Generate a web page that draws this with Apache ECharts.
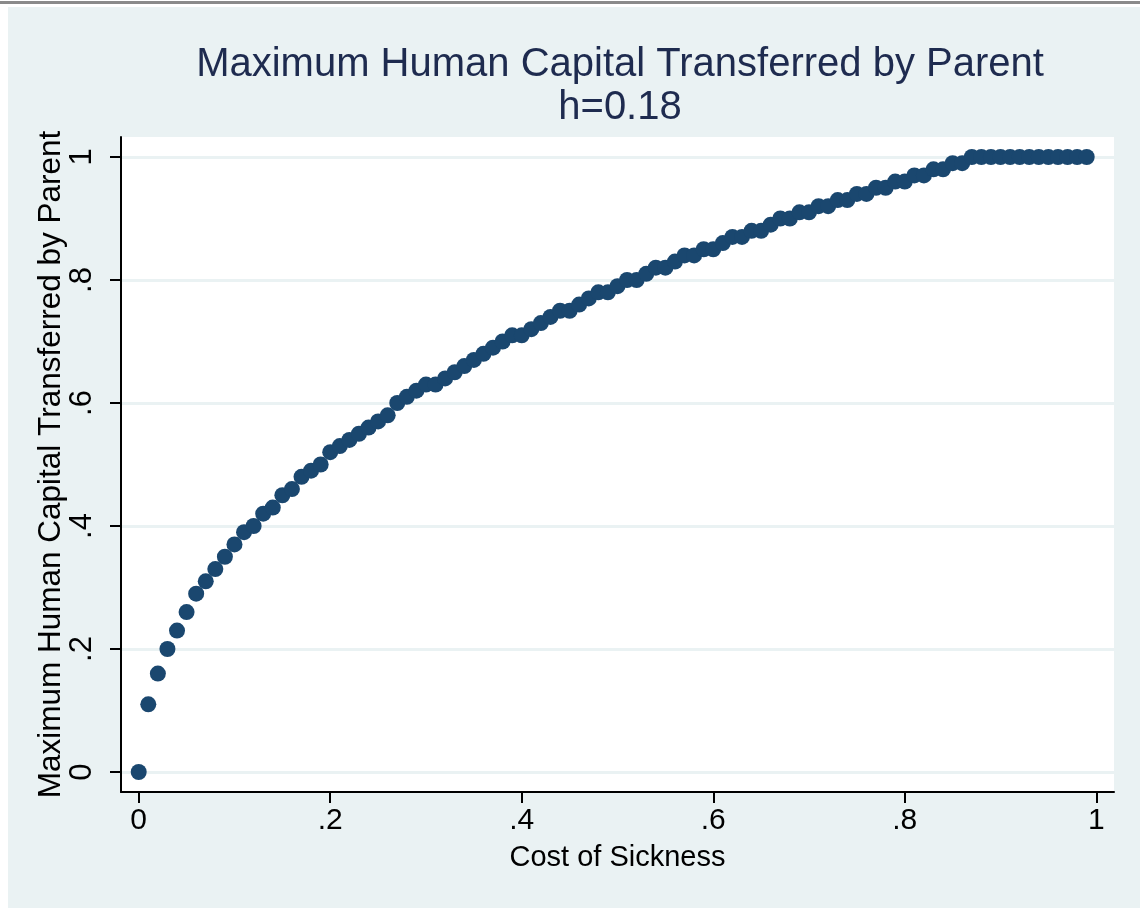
<!DOCTYPE html>
<html>
<head>
<meta charset="utf-8">
<script src="https://cdn.jsdelivr.net/npm/echarts@6/dist/echarts.min.js"></script>
<style>
  html, body { margin: 0; padding: 0; background: #ffffff; width: 1140px; height: 910px; overflow: hidden; }
  #topline { position: absolute; left: 0; top: 1px; width: 1140px; height: 3px; background: #8a8a8a; }
  #chart { position: absolute; left: 8px; top: 7px; width: 1132px; height: 901px; }
</style>
</head>
<body>
<div id="topline"></div>
<div id="chart"></div>
<script>
// cost of sickness (x)
const costOfSickness = [
  0.00, 0.01, 0.02, 0.03, 0.04, 0.05, 0.06, 0.07, 0.08, 0.09,
  0.10, 0.11, 0.12, 0.13, 0.14, 0.15, 0.16, 0.17, 0.18, 0.19,
  0.20, 0.21, 0.22, 0.23, 0.24, 0.25, 0.26, 0.27, 0.28, 0.29,
  0.30, 0.31, 0.32, 0.33, 0.34, 0.35, 0.36, 0.37, 0.38, 0.39,
  0.40, 0.41, 0.42, 0.43, 0.44, 0.45, 0.46, 0.47, 0.48, 0.49,
  0.50, 0.51, 0.52, 0.53, 0.54, 0.55, 0.56, 0.57, 0.58, 0.59,
  0.60, 0.61, 0.62, 0.63, 0.64, 0.65, 0.66, 0.67, 0.68, 0.69,
  0.70, 0.71, 0.72, 0.73, 0.74, 0.75, 0.76, 0.77, 0.78, 0.79,
  0.80, 0.81, 0.82, 0.83, 0.84, 0.85, 0.86, 0.87, 0.88, 0.89,
  0.90, 0.91, 0.92, 0.93, 0.94, 0.95, 0.96, 0.97, 0.98, 0.99
]
// maximum human capital transferred by parent (y)
const maxCapital = [
  0.00, 0.11, 0.16, 0.20, 0.23, 0.26, 0.29, 0.31, 0.33, 0.35,
  0.37, 0.39, 0.40, 0.42, 0.43, 0.45, 0.46, 0.48, 0.49, 0.50,
  0.52, 0.53, 0.54, 0.55, 0.56, 0.57, 0.58, 0.60, 0.61, 0.62,
  0.63, 0.63, 0.64, 0.65, 0.66, 0.67, 0.68, 0.69, 0.70, 0.71,
  0.71, 0.72, 0.73, 0.74, 0.75, 0.75, 0.76, 0.77, 0.78, 0.78,
  0.79, 0.80, 0.80, 0.81, 0.82, 0.82, 0.83, 0.84, 0.84, 0.85,
  0.85, 0.86, 0.87, 0.87, 0.88, 0.88, 0.89, 0.90, 0.90, 0.91,
  0.91, 0.92, 0.92, 0.93, 0.93, 0.94, 0.94, 0.95, 0.95, 0.96,
  0.96, 0.97, 0.97, 0.98, 0.98, 0.99, 0.99, 1.00, 1.00, 1.00,
  1.00, 1.00, 1.00, 1.00, 1.00, 1.00, 1.00, 1.00, 1.00, 1.00
]
const tickValues = [0, 0.2, 0.4, 0.6, 0.8, 1]
const tickLabels = ['0', '.2', '.4', '.6', '.8', '1']

const chart = echarts.init(document.getElementById('chart'))

function fmt(v) {
  const i = tickValues.findIndex(t => Math.abs(t - v) < 1e-6)
  return i >= 0 ? tickLabels[i] : ''
}

const font = 'Liberation Sans, Arial, sans-serif'

const option = {
  backgroundColor: '#eaf2f3',
  animation: false,
  title: {
    text: 'Maximum Human Capital Transferred by Parent\nh=0.18',
    left: 607,
    top: 31,
    textAlign: 'center',
    textStyle: {
      fontFamily: font,
      fontSize: 40,
      fontWeight: 'normal',
      color: '#1e2b4f',
      lineHeight: 43
    }
  },
  grid: {
    left: 113,
    top: 130,
    right: 26,
    bottom: 116,
    show: true,
    backgroundColor: '#ffffff',
    borderWidth: 0
  },
  xAxis: {
    type: 'value',
    min: -0.0185,
    max: 1.0185,
    name: 'Cost of Sickness',
    nameLocation: 'middle',
    nameGap: 51,
    nameTextStyle: { fontFamily: font, fontSize: 29, color: '#000' },
    axisLine: { onZero: false, lineStyle: { color: '#000', width: 2 } },
    axisTick: { customValues: tickValues, length: 11, lineStyle: { color: '#000', width: 2 } },
    axisLabel: {
      customValues: tickValues,
      formatter: fmt,
      margin: 14,
      fontFamily: font,
      fontSize: 30,
      color: '#000'
    },
    splitLine: { show: false }
  },
  yAxis: {
    type: 'value',
    min: -0.0325,
    max: 1.0325,
    name: 'Maximum Human Capital Transferred by Parent',
    nameLocation: 'middle',
    nameGap: 54,
    nameRotate: 90,
    nameMoveOverlap: false,
    nameTextStyle: { fontFamily: font, fontSize: 31.5, color: '#000' },
    axisLine: { show: true, onZero: false, lineStyle: { color: '#000', width: 2 } },
    axisTick: { show: true, customValues: tickValues, length: 11, lineStyle: { color: '#000', width: 2 } },
    axisLabel: {
      customValues: tickValues,
      formatter: fmt,
      rotate: 90,
      margin: 23,
      fontFamily: font,
      fontSize: 31,
      color: '#000'
    },
    splitLine: { show: true, lineStyle: { color: '#eaf2f3', width: 3 } }
  },
  series: [{
    type: 'scatter',
    symbol: 'circle',
    symbolSize: 16,
    itemStyle: { color: '#1a476f', opacity: 1 },
    data: costOfSickness.map((x, i) => [x, maxCapital[i]])
  }]
}

chart.setOption(option)
</script>
</body>
</html>
